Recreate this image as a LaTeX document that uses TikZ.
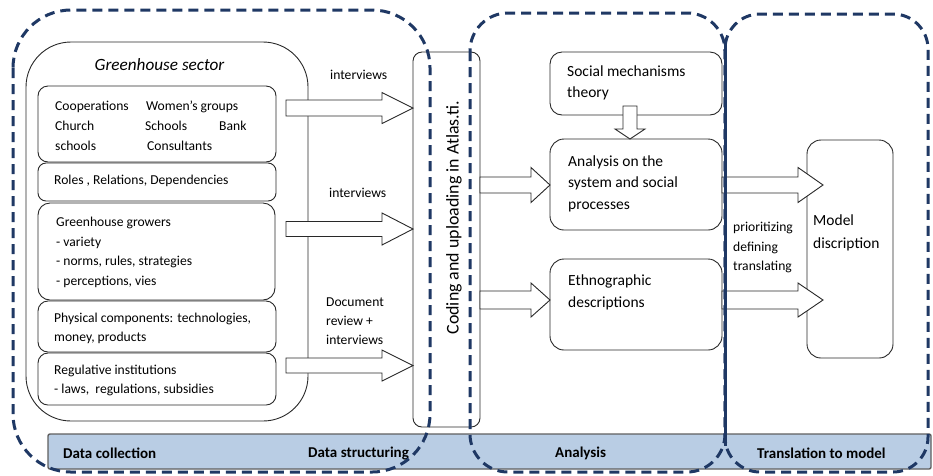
\documentclass[tikz,border=0pt]{standalone}
\usepackage{fontspec}
\setmainfont{Carlito}
\usetikzlibrary{calc,fit}
\definecolor{navy}{RGB}{31,56,100}
\definecolor{bandblue}{RGB}{185,205,228}
\definecolor{bandline}{RGB}{95,95,95}
\definecolor{boxline}{RGB}{40,40,40}
\tikzset{
  frame/.style={draw=navy, line width=3pt, dash pattern=on 10pt off 6pt, rounded corners=#1},
  box/.style={draw=boxline, line width=0.9pt, rounded corners=#1, fill=white, inner sep=0pt, outer sep=0pt},
  box/.default=10pt,
  txt/.style={anchor=west, inner sep=0pt, font=\fontsize{13.6}{19.5}\selectfont, align=left},
  bigtxt/.style={anchor=west, inner sep=0pt, font=\fontsize{15.5}{21.5}\selectfont, align=left},
  bandtxt/.style={anchor=west, inner sep=0pt, font=\fontsize{15}{18}\selectfont\bfseries},
  blockarrow/.style={draw=boxline, line width=0.9pt, fill=white, line join=miter},
}
% horizontal block arrow: start, tip, shaft half, head half, head length
\newcommand\harrow[5]{%
  \draw[blockarrow] let \p1=(#1), \p2=(#2) in
    (\x1,\y1+#3) -- (\x2-#5,\y1+#3) -- (\x2-#5,\y1+#4) -- (\x2,\y1)
    -- (\x2-#5,\y1-#4) -- (\x2-#5,\y1-#3) -- (\x1,\y1-#3) -- cycle;}
\begin{document}
\begin{tikzpicture}[x=1pt,y=-1pt]
\useasboundingbox (0,0) rectangle (933,475);

% bottom band
\node[fit={(48,434) (931,469)}, inner sep=0pt, fill=bandblue, draw=bandline, line width=1.4pt, rounded corners=2pt] (band) {};
\node[bandtxt] (lcol) at (63,453) {Data collection};
\node[bandtxt] (lstr) at (308,453) {Data structuring};
\node[bandtxt] (lana) at (555,453) {Analysis};
\node[bandtxt] (ltra) at (757,453) {Translation to model};

% greenhouse sector
\node[box=45pt, fit={(26,42) (308,421)}] (gh) {};
\node[anchor=center, inner sep=0pt, font=\fontsize{17.2}{20}\selectfont\itshape] (ghtitle) at (159.5,65) {Greenhouse sector};

\node[box=10pt, fit={(38,86) (276,162)}] (b1) {};
\node[txt] (t1a) at (55,107) {Cooperations};
\node[txt] (t1b) at (146,107) {Women’s groups};
\node[txt] (t1c) at (55,126) {Church};
\node[txt] (t1d) at (145,126) {Schools};
\node[txt] (t1e) at (219,126) {Bank};
\node[txt] (t1f) at (55,146) {schools};
\node[txt] (t1g) at (147,146) {Consultants};

\node[box=8pt, fit={(38,163) (276,201)}] (b2) {};
\node[txt] (t2) at (54,181) {Roles , Relations, Dependencies};

\node[box=12pt, fit={(38,203) (275,300)}] (b3) {};
\node[txt] (t3) at (56,252.5) {Greenhouse growers\\- variety\\- norms, rules, strategies\\- perceptions, vies};

\node[box=10pt, fit={(38,301) (276,352)}] (b4) {};
\node[txt, font=\fontsize{13.6}{19}\selectfont] (t4) at (54,328.5) {Physical components: technologies,\\money, products};

\node[box=10pt, fit={(38,353) (276,405)}] (b5) {};
\node[txt, font=\fontsize{13.6}{19}\selectfont] (t5) at (54,380.5) {Regulative institutions\\- laws,\ \ regulations, subsidies};

% Atlas box
\node[box=9pt, fit={(413,52) (480,427)}] (atlas) {};
\node[rotate=90, inner sep=0pt, font=\fontsize{17.9}{20}\selectfont] (atlastext) at (454,217.5) {Coding and uploading in Atlas.ti.};

% labels on arrows
\node[txt] (li1) at (330,75) {interviews};
\node[txt] (li2) at (329,193) {interviews};
\node[txt, font=\fontsize{13.6}{19}\selectfont] (li3) at (326,321) {Document\\review +\\interviews};

% arrows into Atlas
\coordinate (a1) at (286,108);
\coordinate (a2) at (286,229);
\coordinate (a3) at (286,365.5);
\harrow{a1}{atlas.west |- a1}{8pt}{15.5pt}{31pt}
\harrow{a2}{atlas.west |- a2}{7.5pt}{16pt}{31pt}
\harrow{a3}{atlas.west |- a3}{7.5pt}{15.5pt}{31pt}

% analysis column
\node[box=12pt, fit={(550,52) (722,115)}] (soc) {};
\node[bigtxt] (tsoc) at (567,83) {Social mechanisms\\theory};
\node[box=14pt, fit={(550,139) (722,230)}] (ana) {};
\node[bigtxt] (tana) at (568,183.5) {Analysis on the\\system and social\\processes};
\node[box=14pt, fit={(550,259) (722,350)}] (eth) {};
\node[bigtxt] (teth) at (568,292.5) {Ethnographic\\descriptions};

% down arrow theory -> analysis
\coordinate (d1) at (630,106);
\draw[blockarrow] let \p1=(d1), \p2=(ana.north -| d1) in
  (\x1-7pt,\y1) -- (\x1-7pt,\y2+10pt) -- (\x1-15pt,\y2+10pt) -- (\x2,\y2)
  -- (\x1+15pt,\y2+10pt) -- (\x1+7pt,\y2+10pt) -- (\x1+7pt,\y1) -- cycle;

% arrows Atlas -> analysis
\coordinate (a4) at (480,185);
\coordinate (a5) at (480,300);
\harrow{a4}{ana.west |- a4}{8pt}{17.5pt}{19pt}
\harrow{a5}{eth.west |- a5}{9pt}{17pt}{19pt}

% model
\node[box=14pt, fit={(807,140) (893,358)}] (model) {};
\node[bigtxt, font=\fontsize{15.5}{23}\selectfont] (tmodel) at (813,232.5) {Model\\discription};
\node[txt] (tprio) at (733,247.5) {prioritizing\\defining\\translating};

\coordinate (a6) at (722,185);
\coordinate (a7) at (722,300);
\coordinate (tip6) at (823,185);
\coordinate (tip7) at (823,300);
\harrow{a6}{tip6}{8pt}{17.5pt}{25pt}
\harrow{a7}{tip7}{9pt}{17pt}{25pt}

% dashed phase frames
\draw[frame=58pt] (13,10) rectangle (430,472);
\draw[frame=38pt] (470,13) rectangle (725,472);
\draw[frame=35pt] (725,14) rectangle (928,472);
\draw[navy, line width=3pt] (725,40) -- (725,446);
\end{tikzpicture}
\end{document}
